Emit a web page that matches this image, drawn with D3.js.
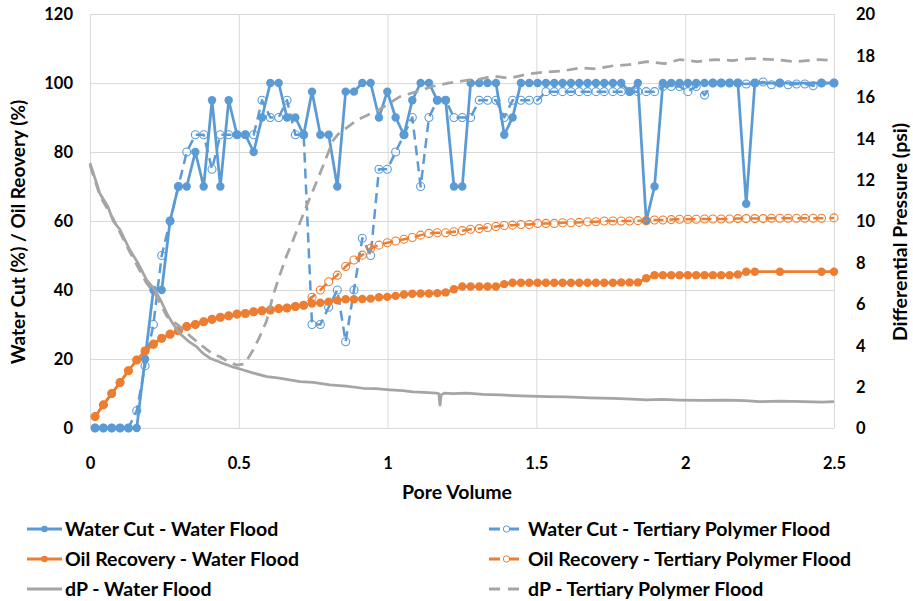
<!DOCTYPE html>
<html><head><meta charset="utf-8">
<script src="https://cdn.jsdelivr.net/npm/d3@7"></script>
<style>
body{margin:0;background:#fff}
svg{display:block}
text{font-family:Lato,"Open Sans",sans-serif;font-weight:700;fill:#000}
</style>
</head><body><svg id="c" width="913" height="601"></svg>
<script>
// ---------- DATA ----------
const xTicks = [0, 0.5, 1, 1.5, 2, 2.5];
const xTickLabels = ["0", "0.5", "1", "1.5", "2", "2.5"];
const yLeftTicks = [0, 20, 40, 60, 80, 100, 120];
const yRightTicks = [0, 2, 4, 6, 8, 10, 12, 14, 16, 18, 20];

// Pore volume – water flood samples
const pvWater = [0.017,0.045,0.073,0.101,0.129,0.157,0.185,0.213,0.241,0.269,
  0.297,0.325,0.354,0.382,0.410,0.438,0.466,0.494,0.522,0.550,
  0.578,0.606,0.634,0.662,0.690,0.718,0.746,0.774,0.802,0.831,
  0.859,0.887,0.915,0.943,0.971,0.999,1.027,1.055,1.083,1.111,
  1.139,1.167,1.195,1.223,1.251,1.279,1.308,1.336,1.364,1.392,
  1.420,1.448,1.476,1.504,1.532,1.560,1.588,1.616,1.644,1.672,
  1.700,1.728,1.757,1.785,1.813,1.841,1.869,1.897,1.925,1.953,
  1.981,2.009,2.037,2.065,2.093,2.121,2.149,2.177,2.205,2.234,
  2.318,2.458,2.5];
const wcWater = [0,0,0,0,0,0,20,40,40,60,
  70,70,80,70,95,70,95,85,85,80,
  90,100,100,90,90,85,97.5,85,85,70,
  97.5,97.5,100,100,90,97.5,90,85,95,100,
  100,95,95,70,70,100,100,100,100,85,
  90,100,100,100,100,100,100,100,100,100,
  100,100,100,100,97.5,100,60,70,100,100,
  100,100,100,100,100,100,100,100,65,100,
  100,100,100];
const orWater = [3.3,6.7,10,13.2,16.6,19.7,22.3,24.3,26,27.2,
  28.2,29.4,30,30.8,31.5,32.1,32.5,33,33.2,33.7,
  34,34.2,34.6,34.8,35.2,35.6,36.1,36.3,36.6,37,
  37.3,37.3,37.4,37.5,37.9,38,38.3,38.7,38.9,39,
  39,39.1,39.3,40.2,41,41,41,41,41,41.7,
  42.1,42.1,42.1,42.1,42.1,42.1,42.1,42.1,42.1,42.1,
  42.1,42.1,42.1,42.2,42.2,42.2,43.4,44.3,44.3,44.3,
  44.3,44.3,44.3,44.3,44.3,44.3,44.3,44.5,45.3,45.3,
  45.3,45.3,45.3];

// Pore volume – tertiary polymer flood samples
const pvPoly = [0.017,0.045,0.073,0.101,0.129,0.157,0.185,0.213,0.241,0.269,
  0.297,0.325,0.354,0.382,0.410,0.438,0.466,0.494,0.522,0.550,
  0.578,0.606,0.634,0.662,0.690,0.718,0.746,0.774,0.802,0.831,
  0.859,0.887,0.915,0.943,0.971,0.999,1.027,1.055,1.083,1.111,
  1.139,1.167,1.195,1.223,1.251,1.279,1.308,1.336,1.364,1.392,
  1.420,1.448,1.476,1.504,1.532,1.560,1.588,1.616,1.644,1.672,
  1.700,1.728,1.757,1.785,1.813,1.841,1.869,1.897,1.925,1.953,
  1.981,2.009,2.037,2.065,2.093,2.121,2.149,2.177,2.205,2.234,
  2.262,2.290,2.318,2.346,2.374,2.402,2.430,2.458,2.5];
const wcPoly = [0,0,0,0,0,5,18,30,50,60,
  70,80,85,85,75,85,85,85,85,85,
  95,90,90,95,85,85,30,30,35,40,
  25,40,55,50,75,75,80,85,90,70,
  90,95,95,90,90,90,95,95,95,90,
  95,95,95,95,97.5,97.5,97.5,97.5,97.5,97.5,
  97.5,97.5,97.5,97.5,97.5,97.5,97.5,97.5,99,99,
  99,97.5,99,96.5,100,100,100,100,99.7,100,
  100.3,99.5,100,99.5,99.7,99.7,99.2,100,100];
const orPoly = [3.3,6.7,10,13.2,16.6,19.7,22.3,24.3,26,27.2,
  28.2,29.4,30,30.8,31.5,32.1,32.5,33,33.2,33.7,
  34,34.2,34.6,34.8,35.2,35.6,37.9,40,42.4,44.3,
  46.8,48.7,50.1,52.1,53,53.7,54.2,54.7,55.2,55.9,
  56.4,56.6,56.6,56.9,57.2,57.6,57.8,58.1,58.4,58.7,
  58.8,59,59,59.3,59.3,59.3,59.5,59.5,59.6,59.8,
  59.8,60,60,60,60,60.1,60.1,60.3,60.3,60.4,
  60.5,60.5,60.5,60.6,60.6,60.6,60.6,60.7,60.7,60.7,
  60.7,60.8,60.8,60.8,60.8,60.8,60.8,60.8,60.9];

// Differential pressure (psi)
const pvDpWater = [0,0.034,0.06,0.078,0.1,0.134,0.16,0.19,0.218,0.24,
  0.258,0.28,0.302,0.33,0.358,0.38,0.403,0.425,0.448,0.48,
  0.515,0.55,0.594,0.63,0.661,0.706,0.75,0.806,0.86,0.918,
  0.96,1.008,1.05,1.086,1.12,1.165,1.172,1.176,1.18,1.19,
  1.22,1.266,1.32,1.378,1.45,1.535,1.6,1.68,1.758,1.82,
  1.871,1.92,1.983,2.06,2.14,2.2,2.25,2.32,2.4,2.46,2.5];
const dpWater = [12.8,11.3,10.7,10.0,9.6,8.6,8.0,7.15,6.67,6.1,
  5.54,5.0,4.57,4.2,3.93,3.6,3.37,3.25,3.12,2.95,
  2.8,2.65,2.48,2.42,2.35,2.24,2.2,2.08,2.02,1.92,
  1.9,1.84,1.8,1.75,1.72,1.68,1.66,1.1,1.6,1.68,
  1.66,1.68,1.62,1.6,1.55,1.51,1.5,1.46,1.43,1.4,
  1.36,1.38,1.35,1.33,1.35,1.32,1.27,1.3,1.27,1.25,1.27];
const pvDpPoly = [0,0.034,0.078,0.134,0.19,0.218,0.258,0.302,0.34,0.38,
  0.41,0.437,0.465,0.493,0.52,0.548,0.57,0.594,0.615,0.638,
  0.66,0.683,0.705,0.727,0.75,0.773,0.795,0.817,0.84,0.862,
  0.9,0.93,0.974,1.04,1.109,1.15,1.199,1.266,1.31,1.355,
  1.41,1.47,1.535,1.59,1.647,1.7,1.758,1.81,1.871,1.93,
  1.983,2.04,2.1,2.16,2.22,2.3,2.37,2.45,2.5];
const dpPoly = [12.7,11.2,10.1,8.5,7.0,6.5,5.4,4.9,4.4,3.93,
  3.6,3.44,3.2,3.04,3.1,3.77,4.4,5.2,6.4,7.4,
  8.3,9.1,9.9,10.7,11.5,12.3,13.1,13.9,14.3,14.5,
  14.9,15.1,15.4,16.0,16.3,16.5,16.65,16.8,16.85,17.0,
  16.9,17.1,17.2,17.25,17.4,17.35,17.5,17.55,17.7,17.6,
  17.8,17.7,17.8,17.75,17.85,17.8,17.7,17.8,17.75];

const seriesNames = ["Water Cut - Water Flood","Water Cut - Tertiary Polymer Flood",
  "Oil Recovery - Water Flood","Oil Recovery - Tertiary Polymer Flood",
  "dP - Water Flood","dP - Tertiary Polymer Flood"];

// ---------- CHART ----------
const BLUE="#5B9BD5", ORANGE="#ED7D31", GRAY="#A5A5A5", GRID="#D9D9D9";
const svg=d3.select("#c");
const L=90, R=834, T=14, B=428;
const x=d3.scaleLinear().domain([0,2.5]).range([L,R]);
const yL=d3.scaleLinear().domain([0,120]).range([B,T]);
const yR=d3.scaleLinear().domain([0,20]).range([B,T]);

// gridlines
svg.append("g").attr("transform",`translate(${L},0)`)
  .call(d3.axisLeft(yL).tickValues(yLeftTicks).tickSize(-(R-L)).tickFormat(""))
  .call(g=>g.select(".domain").remove())
  .call(g=>g.selectAll("line").attr("stroke",GRID).attr("stroke-width",1));
svg.append("g").attr("transform",`translate(0,${B})`)
  .call(d3.axisBottom(x).tickValues(xTicks).tickSize(-(B-T)).tickFormat(""))
  .call(g=>g.select(".domain").remove())
  .call(g=>g.selectAll("line").attr("stroke",GRID).attr("stroke-width",1));

// axis labels
const tickFont=16.5;
svg.append("g").attr("transform",`translate(${L},0)`)
  .call(d3.axisLeft(yL).tickValues(yLeftTicks).tickSize(0).tickPadding(17).tickFormat(d3.format("d")))
  .call(g=>g.select(".domain").remove())
  .call(g=>g.selectAll("text").attr("font-size",tickFont).attr("dy","0.36em"));
svg.append("g").attr("transform",`translate(${R},0)`)
  .call(d3.axisRight(yR).tickValues(yRightTicks).tickSize(0).tickPadding(22).tickFormat(d3.format("d")))
  .call(g=>g.select(".domain").remove())
  .call(g=>g.selectAll("text").attr("font-size",tickFont).attr("dy","0.36em"));
svg.append("g").attr("transform",`translate(0,${B})`)
  .call(d3.axisBottom(x).tickValues(xTicks).tickSize(0).tickPadding(41).tickFormat((d,i)=>xTickLabels[i]))
  .call(g=>g.select(".domain").remove())
  .call(g=>g.selectAll("text").attr("font-size",tickFont).attr("dy","0"));

// axis titles
svg.append("text").attr("transform",`translate(25,232) rotate(-90)`)
  .attr("text-anchor","middle").attr("font-size",19).text("Water Cut (%) / Oil Reovery (%)");
svg.append("text").attr("transform",`translate(907,232) rotate(-90)`)
  .attr("text-anchor","middle").attr("font-size",19.5).text("Differential Pressure (psi)");
svg.append("text").attr("x",457).attr("y",499).attr("text-anchor","middle")
  .attr("font-size",19.5).text("Pore Volume");

const plot=svg.append("g");
function series(pv, vals, yScale, color, opts){
  const pts=pv.map((p,i)=>[p,vals[i]]);
  const line=d3.line().x(d=>x(d[0])).y(d=>yScale(d[1]));
  plot.append("path").datum(pts).attr("d",line).attr("fill","none")
    .attr("stroke",color).attr("stroke-width",opts.width)
    .attr("stroke-linejoin","round")
    .attr("stroke-dasharray",opts.dash||null);
  if(opts.marker==="filled"){
    plot.append("g").selectAll("circle").data(pts).join("circle")
      .attr("cx",d=>x(d[0])).attr("cy",d=>yScale(d[1])).attr("r",4.2).attr("fill",color);
  } else if(opts.marker==="open"){
    plot.append("g").selectAll("circle").data(pts).join("circle")
      .attr("cx",d=>x(d[0])).attr("cy",d=>yScale(d[1])).attr("r",4).attr("fill","none")
      .attr("stroke",color).attr("stroke-width",1.1);
  }
}
series(pvWater, wcWater, yL, BLUE, {width:2.75, marker:"filled"});
series(pvPoly, wcPoly, yL, BLUE, {width:2.5, dash:"10,6", marker:"open"});
series(pvWater, orWater, yL, ORANGE, {width:2.75, marker:"filled"});
series(pvPoly, orPoly, yL, ORANGE, {width:2.5, dash:"10,6", marker:"open"});
series(pvDpWater, dpWater, yR, GRAY, {width:2.75});
series(pvDpPoly, dpPoly, yR, GRAY, {width:2.75, dash:"11,7"});

// legend
const legendStyle=[
  {color:BLUE, dash:null, marker:"filled"},
  {color:BLUE, dash:"11,8", marker:"open"},
  {color:ORANGE, dash:null, marker:"filled"},
  {color:ORANGE, dash:"11,8", marker:"open"},
  {color:GRAY, dash:null, marker:null},
  {color:GRAY, dash:"11,8", marker:null}
];
const leg=svg.append("g");
seriesNames.forEach((name,i)=>{
  const col=i%2, row=Math.floor(i/2);
  const sx = col===0 ? 27 : 489;
  const cy = 529 + row*30;
  const g=leg.append("g");
  g.append("line").attr("x1",sx).attr("x2",sx+35).attr("y1",cy).attr("y2",cy)
    .attr("stroke",legendStyle[i].color).attr("stroke-width",3)
    .attr("stroke-dasharray",legendStyle[i].dash);
  if(legendStyle[i].marker==="filled"){
    g.append("circle").attr("cx",sx+17.5).attr("cy",cy).attr("r",3.2).attr("fill",legendStyle[i].color);
  } else if(legendStyle[i].marker==="open"){
    g.append("circle").attr("cx",sx+17.5).attr("cy",cy).attr("r",3.2).attr("fill","#fff")
      .attr("stroke",legendStyle[i].color).attr("stroke-width",1);
  }
  g.append("text").attr("x", col===0 ? 65 : 528).attr("y",cy+7).attr("font-size",19.5).text(name);
});
</script>
</body></html>
